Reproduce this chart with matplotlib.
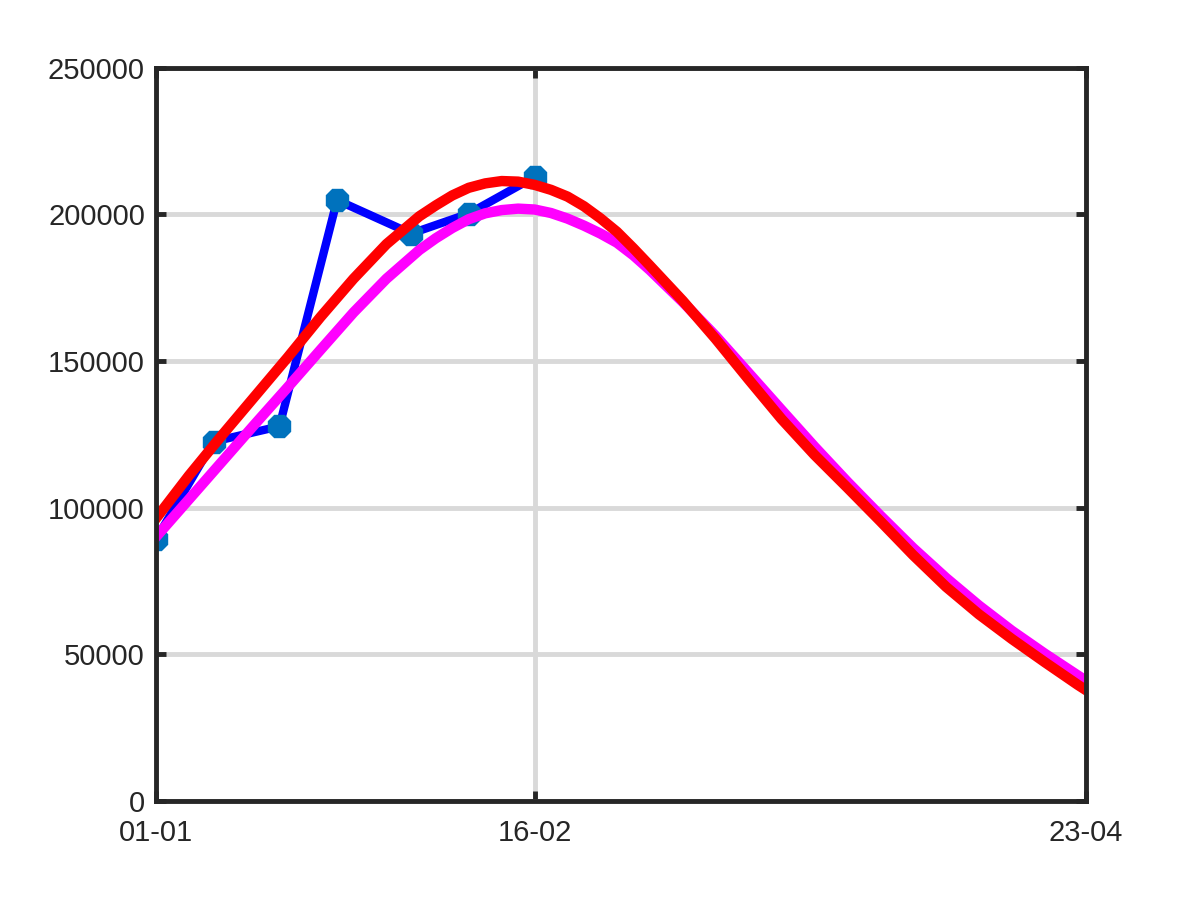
import matplotlib
matplotlib.use('Agg')
import matplotlib.pyplot as plt

plt.rcParams['font.family'] = ['Liberation Sans', 'DejaVu Sans']

# observed values (days since 01-01)
obs_days = [0, 7, 15, 22, 31, 38, 46]
obs_vals = [89200, 122500, 127700, 204800, 193400, 200200, 212700]

# fitted curves
fit_days = [0, 4, 8, 12, 16, 20, 24, 28, 32, 34, 36, 38, 40, 42, 44, 46, 48,
            50, 52, 54, 56, 58, 60, 64, 68, 72, 76, 80, 84, 88, 92, 96, 100,
            104, 108, 112, 113]
fit_red = [96300, 110900, 124600, 137900, 151200, 165000, 178000, 189800,
           199300, 203000, 206400, 209000, 210500, 211300, 211100, 210000,
           208300, 206000, 202700, 198600, 194000, 188400, 182500, 170500,
           157500, 143700, 130200, 118000, 106800, 95400, 83800, 73000,
           63600, 55200, 47300, 39600, 37800]
fit_mag = [90000, 102800, 115600, 128400, 141000, 153800, 166500, 178000,
           187800, 191800, 195300, 198300, 200300, 201400, 201900, 201600,
           200400, 198500, 196100, 193400, 190300, 186000, 181000, 170100,
           158500, 145900, 133300, 120800, 108800, 97300, 86200, 76000,
           66600, 58000, 50200, 42800, 41000]

tick_days = [0, 46, 113]
tick_labels = ['01-01', '16-02', '23-04']
y_ticks = [0, 50000, 100000, 150000, 200000, 250000]

fig = plt.figure(figsize=(12, 9), dpi=100)
ax = fig.add_axes([0.13, 0.11, 0.775, 0.815])

ax.plot(obs_days, obs_vals, color='#0000ff', lw=6, zorder=3)
ax.plot(obs_days, obs_vals, '8', ms=17, color='#0072bd', mec='#0072bd', zorder=4)
ax.plot(fit_days, fit_mag, color='#ff00ff', lw=7.5, zorder=5,
        solid_joinstyle='round')
ax.plot(fit_days, fit_red, color='#ff0000', lw=7.5, zorder=6,
        solid_joinstyle='round')

ax.set_xlim(0, 113)
ax.set_ylim(0, 250000)
ax.set_xticks(tick_days)
ax.set_xticklabels(tick_labels)
ax.set_yticks(y_ticks)
ax.set_yticklabels([str(v) for v in y_ticks])

ax.grid(True, color='#d9d9d9', lw=3.5, zorder=0)
ax.set_axisbelow(True)
for s in ax.spines.values():
    s.set_linewidth(3.5)
    s.set_color('#262626')
    s.set_zorder(10)
ax.tick_params(direction='in', length=7, width=3.5, color='#262626',
               labelcolor='#262626', labelsize=21, top=True, right=True)
ax.tick_params(axis='y', pad=8)
ax.tick_params(axis='x', pad=13)

fig.savefig('out.png', dpi=100)
